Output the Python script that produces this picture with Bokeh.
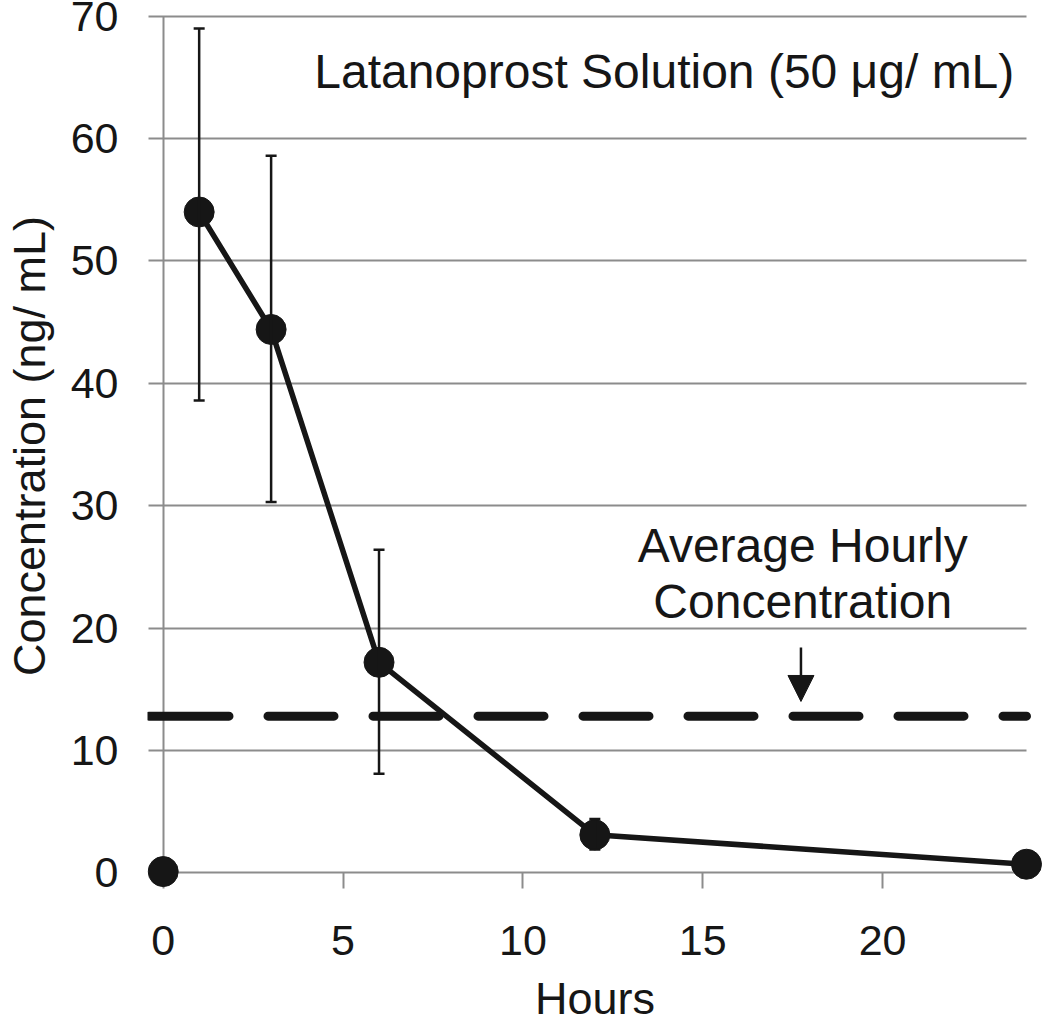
from bokeh.plotting import figure
from bokeh.models import (ColumnDataSource, FixedTicker, Whisker, TeeHead,
                          Label, Arrow, NormalHead, Grid)
from bokeh.embed import file_html
from bokeh.resources import INLINE

# ---- data ----
hours = [0, 1, 3, 6, 12, 24]
conc = [0.1, 54.0, 44.4, 17.2, 3.1, 0.7]
err_hours = [1, 3, 6, 12]
err_upper = [69.0, 58.6, 26.4, 4.4]
err_lower = [38.6, 30.3, 8.1, 1.9]
avg_hourly = 12.8
x_ticks = [0, 5, 10, 15, 20]
y_ticks = [0, 10, 20, 30, 40, 50, 60, 70]
title_text = "Latanoprost Solution (50 μg/ mL)"
avg_text = ["Average Hourly", "Concentration"]
x_label = "Hours"
y_label = "Concentration (ng/ mL)"

FONT = "Liberation Sans"
INK = "#161616"
GRID = "#8c8c8c"

p = figure(frame_width=895, frame_height=887,
           min_border_left=147, min_border_right=0,
           min_border_top=2, min_border_bottom=135,
           x_range=(-0.4365, 24.445), y_range=(-1.365, 71.12),
           output_backend="svg", toolbar_location=None)
p.outline_line_color = None
p.background_fill_color = "white"
p.border_fill_color = "white"

# axes: only labels and titles, lines/ticks drawn by grids
xa = p.xaxis[0]
ya = p.yaxis[0]
xa.ticker = FixedTicker(ticks=x_ticks)
ya.ticker = FixedTicker(ticks=y_ticks)
for ax, stand in ((xa, 36), (ya, 29)):
    ax.axis_line_color = None
    ax.major_tick_line_color = None
    ax.minor_tick_line_color = None
    ax.major_tick_in = 0
    ax.major_tick_out = 0
    ax.minor_tick_in = 0
    ax.minor_tick_out = 0
    ax.major_label_text_font = FONT
    ax.major_label_text_font_size = "43px"
    ax.major_label_text_color = INK
    ax.major_label_standoff = stand
    ax.axis_label_text_font = FONT
    ax.axis_label_text_font_size = "45px"
    ax.axis_label_text_font_style = "normal"
    ax.axis_label_text_color = INK
xa.axis_label = x_label
ya.axis_label = y_label
xa.axis_label_standoff = 15
ya.axis_label_standoff = 13

# horizontal gridlines (with the outward tick stub on the left)
p.ygrid.ticker = FixedTicker(ticks=y_ticks)
p.ygrid.grid_line_color = GRID
p.ygrid.grid_line_width = 2
p.ygrid.cross_bounds = (-0.41, hours[-1])
# vertical axis line at x = 0
p.xgrid.ticker = FixedTicker(ticks=x_ticks[:1])
p.xgrid.grid_line_color = GRID
p.xgrid.grid_line_width = 2
p.xgrid.cross_bounds = (y_ticks[0], y_ticks[-1])
# x tick marks below the axis
p.add_layout(Grid(dimension=0, ticker=FixedTicker(ticks=x_ticks),
                  grid_line_color=GRID, grid_line_width=2,
                  cross_bounds=(-1.31, 0)))

# average hourly concentration (dashed)
p.line(x=[-0.395, hours[-1]], y=[avg_hourly, avg_hourly],
       line_color=INK, line_width=9, line_cap="round",
       line_dash="80 39 " + " ".join(["66 39"] * 8))

# connecting line (first sample at t=0 not connected)
p.line(hours[1:], conc[1:], line_color=INK, line_width=5.5, line_join="round")

# error bars
err_src = ColumnDataSource(dict(x=err_hours, upper=err_upper, lower=err_lower))
p.add_layout(Whisker(source=err_src, base="x", upper="upper", lower="lower",
                     dimension="height", line_color=INK, line_width=2.5,
                     level="glyph",
                     upper_head=TeeHead(size=11, line_color=INK, line_width=2.5),
                     lower_head=TeeHead(size=11, line_color=INK, line_width=2.5)))

# markers
p.scatter(hours, conc, size=30, fill_color=INK, line_color=INK, line_width=1)

# arrow
p.add_layout(Arrow(end=NormalHead(size=26, fill_color=INK, line_color=INK, line_width=1),
                   x_start=17.73, y_start=18.42, x_end=17.73, y_end=14.0,
                   line_color=INK, line_width=2.5))

# texts
def lab(x, y, t, size):
    p.add_layout(Label(x=x, y=y, text=t, text_align="center",
                       text_baseline="alphabetic", text_font=FONT,
                       text_font_size=size, text_color=INK))

lab(13.93, 65.45, title_text, "48px")
lab(17.78, 26.72, avg_text[0], "48px")
lab(17.78, 22.15, avg_text[1], "48px")

open("out.html", "w").write(file_html(p, INLINE))
